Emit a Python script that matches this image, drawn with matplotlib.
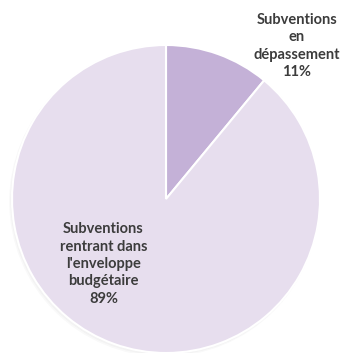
import matplotlib
matplotlib.use("Agg")
import matplotlib.pyplot as plt
from matplotlib.patches import Circle

# Share of grants: within budget vs. exceeding it
categories = ["Subventions\nen\ndépassement", "Subventions\nrentrant dans\nl'enveloppe\nbudgétaire"]
shares = [11, 89]
colors = ["#C4B1D7", "#E7DEEE"]

W, H, DPI = 340, 353, 100
cx, cy, R = 166, 199, 154  # pie centre and radius in pixels

fig = plt.figure(figsize=(W / DPI, H / DPI), dpi=DPI)
ax = fig.add_axes([0, 0, 1, 1])

def px(x, y):
    return (x - cx) / R, (cy - y) / R

# soft shadow under the disc
for i in range(3):
    ax.add_patch(Circle((-0.004 * (i + 1), -0.006 * (i + 1)), 1.0 + 0.003 * i,
                        color="#8a8a8a", alpha=0.05, zorder=0, lw=0))

ax.pie(shares, colors=colors, startangle=90, counterclock=False, radius=1.0,
       wedgeprops=dict(edgecolor="white", linewidth=1.5), frame=True)
ax.set_xlim(-cx / R, (W - cx) / R)
ax.set_ylim(-(H - cy) / R, cy / R)
ax.set_aspect("auto")
ax.axis("off")

label_pos = [(297, 46), (103.5, 264)]
for cat, v, (lx, ly) in zip(categories, shares, label_pos):
    x, y = px(lx, ly)
    ax.text(x, y, f"{cat}\n{v}%", ha="center", va="center", fontsize=10.5,
            fontweight="bold", family="Lato", color="#3c3c3c", linespacing=1.3)

fig.savefig("out.png", dpi=DPI)
